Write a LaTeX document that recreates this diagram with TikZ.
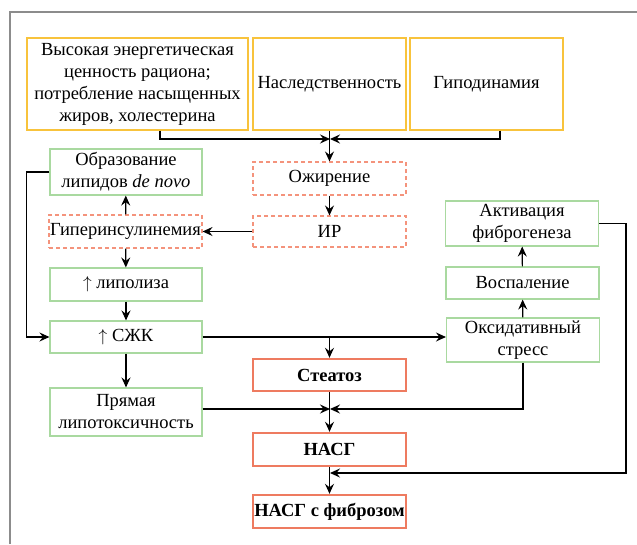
\documentclass[tikz,border=0pt]{standalone}
\usepackage{fontspec}
\setmainfont{Liberation Serif}
\usetikzlibrary{arrows.meta,calc}
\definecolor{yel}{HTML}{F8C33C}
\definecolor{grn}{HTML}{A9D9A0}
\definecolor{sal}{HTML}{F4937C}
\definecolor{salt}{HTML}{EE7B60}
\definecolor{frm}{HTML}{8C8C8C}
\begin{document}
\begin{tikzpicture}[x=1pt,y=-1pt,
  base/.style={rectangle,inner sep=0pt,align=center,font=\fontsize{18.5}{22}\selectfont,minimum width=153pt},
  ybox/.style={base,draw=yel,line width=1.3pt,minimum height=92pt},
  gbox/.style={base,draw=grn,line width=1.1pt},
  dbox/.style={base,draw=sal,line width=1.1pt,dash pattern=on 4pt off 3pt},
  rbox/.style={base,draw=salt,line width=2.4pt,font=\fontsize{18.5}{22}\selectfont\bfseries},
  arr/.style={line width=1.2pt,-{Stealth[length=10pt,width=9pt,inset=3.5pt]}}]
\useasboundingbox (0,0) rectangle (637,544);
\draw[frm,line width=2.5pt] (10,544) -- (10,12) -- (637,12);
% top row
\node[ybox,minimum width=221pt] (b1) at (137.5,84) {Высокая энергетическая\\ценность рациона;\\потребление насыщенных\\жиров, холестерина};
\node[ybox] (b2) at (329.5,84) {Наследственность};
\node[ybox] (b3) at (486.5,84) {Гиподинамия};
% middle column
\node[dbox,minimum height=33pt] (obes) at (329.5,178.5) {Ожирение};
\node[dbox,minimum height=31pt] (ir) at (329.5,231.5) {ИР};
\node[rbox,minimum height=32pt] (steat) at (329.5,375) {Стеатоз};
\node[rbox,minimum height=33pt] (nasg) at (329.5,449.5) {НАСГ};
\node[rbox,minimum height=33pt] (fib) at (329.5,511.5) {НАСГ с фиброзом};
% left column
\node[gbox,minimum height=46pt,minimum width=152pt] (obr) at (126,172) {Образование\\липидов \textit{de novo}};
\node[dbox,minimum height=33pt] (hyper) at (125.5,231.5) {Гиперинсулинемия};
\node[gbox,minimum height=33pt,minimum width=152pt] (lip) at (126,284.5) {$\uparrow$ липолиза};
\node[gbox,minimum height=32pt,minimum width=152pt] (szk) at (126,337) {$\uparrow$ СЖК};
\node[gbox,minimum height=48pt,minimum width=152pt] (pryam) at (126,412) {Прямая\\липотоксичность};
% right column
\node[gbox,minimum height=45pt] (akt) at (522,223.5) {Активация\\фиброгенеза};
\node[gbox,minimum height=32pt] (vosp) at (522.5,283) {Воспаление};
\node[gbox,minimum height=44pt] (oks) at (523,340) {Оксидативный\\стресс};
% junctions
\coordinate (j1) at (330,139);
\coordinate (j2) at (330,409);
\coordinate (j3) at (330,473);
% connectors
\draw[arr] ([xshift=22.5pt]b1.south) |- (j1);
\draw[arr] ([xshift=13.5pt]b3.south) |- (j1);
\draw[arr] (b2.south) -- (obes.north);
\draw[arr] (obes) -- (ir);
\draw[arr] (ir) -- (hyper);
\draw[arr] (hyper) -- (obr);
\draw[arr] (hyper) -- (lip);
\draw[arr] (lip) -- (szk);
\draw[arr] (szk) -- (pryam);
\draw[arr] (obr.west) -- ++(-23,0) |- (szk.west);
\draw[arr] (szk.east) -- (szk.east -| oks.west);
\draw[arr] (szk.east -| steat.north) -- (steat.north);
\draw[arr] (steat) -- (nasg);
\draw[arr] (pryam.east |- j2) -- (j2);
\draw[arr] (oks.south) |- (j2);
\draw[arr] (nasg) -- (fib);
\draw[arr] (akt.east) -- ++(27,0) |- (j3);
\draw[arr] (oks) -- (vosp);
\draw[arr] (vosp) -- (akt);
\end{tikzpicture}
\end{document}
